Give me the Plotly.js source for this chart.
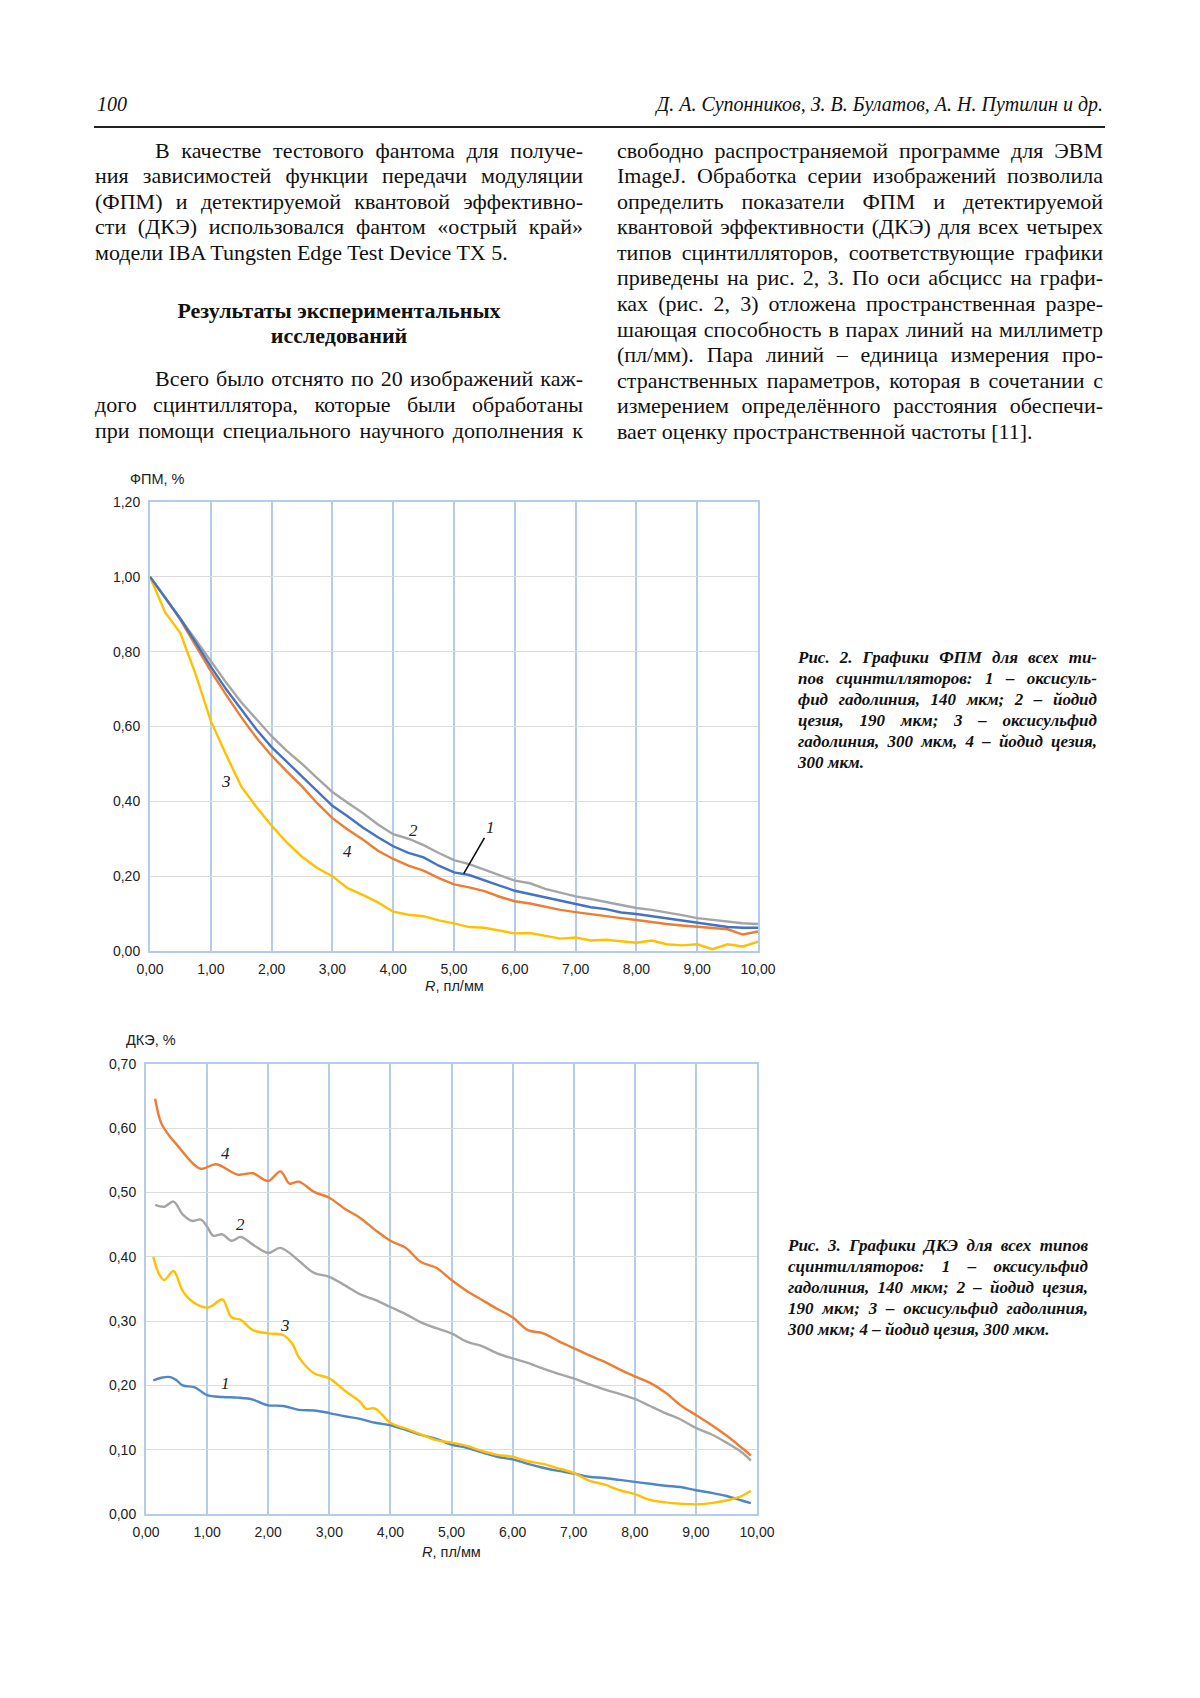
<!DOCTYPE html>
<html lang="ru">
<head>
<meta charset="utf-8">
<script src="https://cdn.plot.ly/plotly-3.0.1.min.js"></script>
<style>
  html, body { margin: 0; padding: 0; background: #fff; }
  #page { position: relative; width: 1200px; height: 1698px; background: #fff; overflow: hidden;
          font-family: "Liberation Serif", "Times New Roman", serif; color: #111; }
  .hdr { position: absolute; top: 91px; font-style: italic; font-size: 20px; line-height: 26px; }
  .rule { position: absolute; left: 94px; width: 1011px; top: 126px; height: 1.6px; background: #222; }
  .col { position: absolute; font-size: 22px; line-height: 25.55px; z-index: 2; }
  .col div { text-align: justify; text-align-last: justify; white-space: nowrap; }
  .col div.last { text-align-last: left; }
  .col div.ind { padding-left: 60px; }
  .col div.head { text-align: center; text-align-last: center; font-weight: bold; line-height: 25px; }
  .cap { position: absolute; font-size: 17px; line-height: 21px; font-weight: bold; font-style: italic; z-index: 2; color: #111; }
  .cap div { text-align: justify; text-align-last: justify; white-space: nowrap; }
  .cap div.last { text-align-last: left; }
  .chart { position: absolute; left: 0; width: 780px; height: 580px; z-index: 1; }
</style>
</head>
<body>
<div id="page">
  <div class="hdr" style="left:97px;">100</div>
  <div class="hdr" style="right:97px; text-align:right;">Д. А. Супонников, З. В. Булатов, А. Н. Путилин и др.</div>
  <div class="rule"></div>

  <div class="col" style="left:95px; top:137.7px; width:488px;">
    <div class="ind">В качестве тестового фантома для получе-</div>
    <div>ния зависимостей функции передачи модуляции</div>
    <div>(ФПМ) и детектируемой квантовой эффективно-</div>
    <div>сти (ДКЭ) использовался фантом «острый край»</div>
    <div class="last">модели IBA Tungsten Edge Test Device TX 5.</div>
    <div style="height:33px"></div>
    <div class="head">Результаты экспериментальных</div>
    <div class="head">исследований</div>
    <div style="height:18px"></div>
    <div class="ind">Всего было отснято по 20 изображений каж-</div>
    <div>дого сцинтиллятора, которые были обработаны</div>
    <div>при помощи специального научного дополнения к</div>
  </div>

  <div class="col" style="left:617px; top:137.7px; width:486px;">
    <div>свободно распространяемой программе для ЭВМ</div>
    <div>ImageJ. Обработка серии изображений позволила</div>
    <div>определить показатели ФПМ и детектируемой</div>
    <div>квантовой эффективности (ДКЭ) для всех четырех</div>
    <div>типов сцинтилляторов, соответствующие графики</div>
    <div>приведены на рис. 2, 3. По оси абсцисс на графи-</div>
    <div>ках (рис. 2, 3) отложена пространственная разре-</div>
    <div>шающая способность в парах линий на миллиметр</div>
    <div>(пл/мм). Пара линий – единица измерения про-</div>
    <div>странственных параметров, которая в сочетании с</div>
    <div>измерением определённого расстояния обеспечи-</div>
    <div class="last">вает оценку пространственной частоты [11].</div>
  </div>

  <div class="cap" style="left:798px; top:647px; width:299px;">
    <div>Рис. 2. Графики ФПМ для всех ти-</div>
    <div>пов сцинтилляторов: 1 – оксисуль-</div>
    <div>фид гадолиния, 140 мкм; 2 – йодид</div>
    <div>цезия, 190 мкм; 3 – оксисульфид</div>
    <div>гадолиния, 300 мкм, 4 – йодид цезия,</div>
    <div class="last">300 мкм.</div>
  </div>

  <div class="cap" style="left:788px; top:1235px; width:300px;">
    <div>Рис. 3. Графики ДКЭ для всех типов</div>
    <div>сцинтилляторов: 1 – оксисульфид</div>
    <div>гадолиния, 140 мкм; 2 – йодид цезия,</div>
    <div>190 мкм; 3 – оксисульфид гадолиния,</div>
    <div class="last">300 мкм; 4 – йодид цезия, 300 мкм.</div>
  </div>

  <div id="chart1" class="chart" style="top:440px;"></div>
  <div id="chart2" class="chart" style="top:1000px;"></div>
</div>

<script>
// squeeze any text line that is wider than its column (styling only)
(function fitLines() {
  const cv = document.createElement('canvas').getContext('2d');
  document.querySelectorAll('.col div, .cap div').forEach(function (d) {
    const txt = d.textContent;
    if (!txt) return;
    const cs = getComputedStyle(d);
    cv.font = cs.fontStyle + ' ' + cs.fontWeight + ' ' + cs.fontSize + ' ' + cs.fontFamily;
    const pad = parseFloat(cs.paddingLeft) || 0;
    const avail = d.clientWidth - pad - 1;
    const w = cv.measureText(txt).width;
    if (w > avail) d.style.letterSpacing = ((avail - w) / txt.length).toFixed(3) + 'px';
  });
})();

// ---------- Рис. 2: ФПМ ----------
const mtfR = [0,0.25,0.5,0.75,1,1.25,1.5,1.75,2,2.25,2.5,2.75,3,3.25,3.5,3.75,4,4.25,4.5,4.75,5,5.25,5.5,5.75,6,6.25,6.5,6.75,7,7.25,7.5,7.75,8,8.25,8.5,8.75,9,9.25,9.5,9.75,10];
const mtf1 = [1.000,0.945,0.888,0.825,0.760,0.700,0.645,0.592,0.545,0.506,0.468,0.428,0.388,0.360,0.330,0.304,0.280,0.262,0.250,0.228,0.210,0.203,0.188,0.175,0.161,0.152,0.142,0.133,0.124,0.117,0.112,0.103,0.099,0.093,0.087,0.080,0.075,0.070,0.064,0.062,0.062];
const mtf2 = [1.000,0.945,0.890,0.832,0.775,0.718,0.665,0.618,0.574,0.535,0.500,0.462,0.425,0.396,0.369,0.338,0.312,0.300,0.283,0.262,0.243,0.232,0.217,0.202,0.188,0.181,0.166,0.156,0.146,0.139,0.131,0.124,0.115,0.110,0.102,0.096,0.088,0.083,0.079,0.074,0.072];
const mtf3 = [1.000,0.905,0.850,0.740,0.615,0.525,0.440,0.385,0.335,0.290,0.252,0.222,0.200,0.168,0.150,0.130,0.105,0.097,0.093,0.082,0.074,0.064,0.062,0.055,0.047,0.048,0.040,0.033,0.036,0.028,0.030,0.025,0.022,0.028,0.018,0.015,0.018,0.005,0.018,0.012,0.025];
const mtf4 = [1.000,0.945,0.885,0.815,0.748,0.685,0.625,0.570,0.522,0.480,0.440,0.395,0.355,0.325,0.298,0.268,0.246,0.228,0.215,0.195,0.178,0.170,0.160,0.145,0.133,0.127,0.118,0.110,0.104,0.098,0.093,0.088,0.083,0.077,0.072,0.068,0.064,0.062,0.058,0.044,0.052];

// ---------- Рис. 3: ДКЭ ----------
const dqe1R = [0.12,0.25,0.4,0.5,0.6,0.8,1.0,1.25,1.5,1.75,1.9,2.0,2.25,2.5,2.75,3.0,3.25,3.5,3.75,4.0,4.25,4.5,4.75,5.0,5.25,5.5,5.75,6.0,6.25,6.5,6.75,7.0,7.25,7.5,7.75,8.0,8.25,8.5,8.75,9.0,9.25,9.5,9.75,9.9];
const dqe1  = [0.208,0.212,0.213,0.208,0.200,0.197,0.185,0.182,0.181,0.178,0.172,0.169,0.168,0.162,0.161,0.157,0.152,0.148,0.142,0.138,0.131,0.123,0.117,0.108,0.103,0.096,0.089,0.085,0.078,0.072,0.067,0.063,0.058,0.056,0.053,0.050,0.047,0.044,0.042,0.037,0.033,0.028,0.021,0.017];
const dqe2R = [0.15,0.3,0.45,0.6,0.75,0.9,1.0,1.1,1.25,1.4,1.55,1.75,2.0,2.2,2.5,2.75,3.0,3.25,3.5,3.75,4.0,4.25,4.5,4.75,5.0,5.25,5.5,5.75,6.0,6.25,6.5,6.75,7.0,7.25,7.5,7.75,8.0,8.25,8.5,8.75,9.0,9.25,9.5,9.75,9.9];
const dqe2  = [0.481,0.478,0.486,0.466,0.456,0.458,0.447,0.433,0.435,0.425,0.431,0.419,0.406,0.414,0.394,0.375,0.369,0.356,0.342,0.333,0.322,0.311,0.298,0.289,0.281,0.268,0.261,0.250,0.242,0.235,0.226,0.218,0.211,0.202,0.194,0.187,0.179,0.168,0.157,0.147,0.134,0.124,0.111,0.096,0.083];
const dqe3R = [0.12,0.22,0.3,0.45,0.6,0.75,1.0,1.1,1.25,1.4,1.55,1.75,2.0,2.25,2.4,2.5,2.75,3.0,3.25,3.5,3.6,3.75,4.0,4.25,4.5,4.75,5.0,5.25,5.5,5.75,6.0,6.25,6.5,6.75,7.0,7.25,7.5,7.75,8.0,8.25,8.5,8.75,9.0,9.25,9.5,9.75,9.9];
const dqe3  = [0.400,0.372,0.364,0.378,0.347,0.331,0.321,0.325,0.334,0.306,0.302,0.286,0.281,0.278,0.264,0.244,0.219,0.211,0.192,0.175,0.164,0.164,0.142,0.133,0.124,0.115,0.111,0.106,0.098,0.092,0.089,0.082,0.078,0.071,0.064,0.052,0.046,0.037,0.031,0.022,0.018,0.016,0.015,0.017,0.021,0.028,0.036];
const dqe4R = [0.15,0.25,0.4,0.5,0.75,0.9,1.15,1.5,1.75,2.0,2.2,2.35,2.5,2.75,3.0,3.25,3.5,3.75,4.0,4.25,4.5,4.75,5.0,5.25,5.5,5.75,6.0,6.25,6.5,6.75,7.0,7.25,7.5,7.75,8.0,8.25,8.5,8.75,9.0,9.25,9.5,9.75,9.9];
const dqe4  = [0.646,0.608,0.586,0.575,0.547,0.537,0.544,0.528,0.530,0.518,0.533,0.514,0.517,0.501,0.492,0.475,0.461,0.442,0.425,0.414,0.392,0.383,0.364,0.347,0.333,0.319,0.306,0.286,0.281,0.269,0.258,0.247,0.237,0.225,0.214,0.204,0.189,0.169,0.154,0.139,0.122,0.103,0.091];

const xTicks = [0,1,2,3,4,5,6,7,8,9,10];

const BLUE = '#4472C4', GRAY = '#A5A5A5', YELLOW = '#FFC000', ORANGE = '#ED7D31';
const tickFont = {family: 'Liberation Sans, Arial, sans-serif', size: 14, color: '#222'};
const labFont = {family: 'Liberation Serif, Times New Roman, serif', size: 17, color: '#222'};
const titleFont = {family: 'Liberation Sans, Arial, sans-serif', size: 14.5, color: '#222'};
const GRID_BLUE = '#B3CCE9';

function axisX() {
  return {range: [0, 10], tickvals: xTicks, tickformat: '.2f', showgrid: true,
          gridcolor: GRID_BLUE, gridwidth: 2, zeroline: false, showline: true, mirror: true,
          linecolor: GRID_BLUE, linewidth: 2, ticks: 'outside', ticklen: 4, tickcolor: 'rgba(0,0,0,0)',
          tickfont: tickFont, fixedrange: true};
}
function axisY(max, step) {
  return {range: [0, max], dtick: step, tick0: 0, tickformat: '.2f', showgrid: true,
          gridcolor: '#DCDCDC', gridwidth: 1, zeroline: false, showline: true, mirror: true,
          linecolor: GRID_BLUE, linewidth: 2, ticks: 'outside', ticklen: 5, tickcolor: 'rgba(0,0,0,0)',
          tickfont: tickFont, fixedrange: true};
}
function tr(x, y, color, shape) {
  return {x: x, y: y, type: 'scatter', mode: 'lines',
          line: {color: color, width: 2.4, shape: shape || 'linear', smoothing: 1.0},
          hoverinfo: 'skip', showlegend: false};
}
function lab(x, y, t) {
  return {x: x, y: y, xref: 'x', yref: 'y', text: '<i>' + t + '</i>', showarrow: false,
          xanchor: 'center', yanchor: 'middle', font: labFont};
}
function ptxt(x, y, t) {
  return {xref: 'paper', yref: 'paper', x: x, y: y, text: t, showarrow: false,
          xanchor: 'center', yanchor: 'middle', font: titleFont};
}

const layout1 = {
  width: 780, height: 580, separators: ', ',
  margin: {l: 150, r: 22, t: 62, b: 69},
  paper_bgcolor: 'rgba(0,0,0,0)', plot_bgcolor: '#fff',
  xaxis: axisX(), yaxis: axisY(1.2, 0.2),
  annotations: [
    ptxt(0.012, 1.051, 'ФПМ, %'),
    ptxt(0.5, -0.078, '<i>R</i>, пл/мм'),
    lab(1.25, 0.452, '3'), lab(4.33, 0.323, '2'), lab(3.25, 0.265, '4'),
    {x: 5.16, y: 0.207, xref: 'x', yref: 'y', ax: 5.6, ay: 0.33, axref: 'x', ayref: 'y',
     text: '<i>1</i>', showarrow: true, arrowhead: 0, arrowwidth: 1.6, arrowcolor: '#111',
     standoff: 0, font: labFont}
  ]
};
Plotly.newPlot('chart1', [tr(mtfR, mtf4, ORANGE), tr(mtfR, mtf2, GRAY), tr(mtfR, mtf3, YELLOW), tr(mtfR, mtf1, BLUE)],
  layout1, {staticPlot: true, displayModeBar: false});

const layout2 = {
  width: 780, height: 580, separators: ', ',
  margin: {l: 146, r: 23, t: 64, b: 66},
  paper_bgcolor: 'rgba(0,0,0,0)', plot_bgcolor: '#fff',
  xaxis: axisX(), yaxis: axisY(0.7, 0.1),
  annotations: [
    ptxt(0.0075, 1.053, 'ДКЭ, %'),
    ptxt(0.5, -0.084, '<i>R</i>, пл/мм'),
    lab(1.3, 0.561, '4'), lab(1.55, 0.45, '2'), lab(2.28, 0.293, '3'), lab(1.3, 0.203, '1')
  ]
};
Plotly.newPlot('chart2', [tr(dqe1R, dqe1, '#4F86C6', 'spline'), tr(dqe2R, dqe2, GRAY, 'spline'),
  tr(dqe3R, dqe3, YELLOW, 'spline'), tr(dqe4R, dqe4, ORANGE, 'spline')],
  layout2, {staticPlot: true, displayModeBar: false});
</script>
</body>
</html>
